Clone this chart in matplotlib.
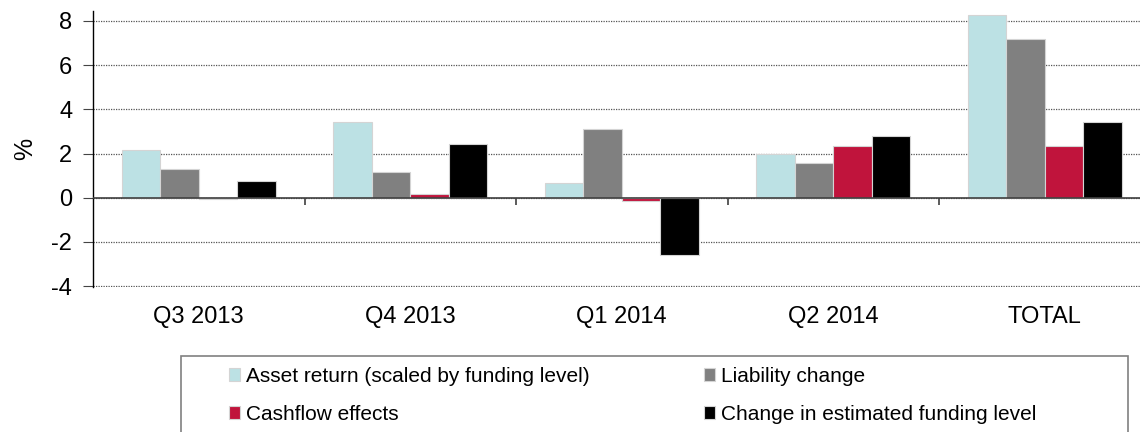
import matplotlib
matplotlib.use("Agg")
import matplotlib.pyplot as plt
from matplotlib.patches import Rectangle

# data
categories = ["Q3 2013", "Q4 2013", "Q1 2014", "Q2 2014", "TOTAL"]
asset_return = [2.14, 3.43, 0.66, 2.00, 8.29]
liability_change = [1.30, 1.18, 3.10, 1.55, 7.18]
cashflow_effects = [-0.05, 0.18, -0.15, 2.35, 2.35]
funding_change = [0.77, 2.43, -2.58, 2.79, 3.43]

series = [
    ("Asset return (scaled by funding level)", asset_return, "#bce1e4"),
    ("Liability change", liability_change, "#808080"),
    ("Cashflow effects", cashflow_effects, "#c0143c"),
    ("Change in estimated funding level", funding_change, "#000000"),
]

plt.rcParams["font.family"] = ["Liberation Sans", "DejaVu Sans"]

W, H = 1140, 432
fig = plt.figure(figsize=(W / 100, H / 100), dpi=100)
ax = fig.add_axes([93 / W, 1 - 287 / H, 1057.5 / W, 276 / H])

bar_w = 0.182
x = list(range(len(categories)))
bars = []
for i, (name, vals, col) in enumerate(series):
    off = (i - 1.5) * bar_w
    b = ax.bar([xi + off for xi in x], vals, width=bar_w, color=col,
               edgecolor="#d4d4d4", linewidth=0.8, label=name, zorder=3)
    bars.append(b)

ax.set_xlim(-0.5, len(categories) - 0.5)
ax.set_ylim(-4.04, 8.45)
ax.set_yticks([-4, -2, 0, 2, 4, 6, 8])
ax.set_yticklabels(["-4", "-2", "0", "2", "4", "6", "8"])
ax.yaxis.grid(True, linestyle=(0, (1, 1)), color="#555555", linewidth=0.9, zorder=0)

ax.set_xticks(x)
ax.set_xticklabels(categories)
ax.tick_params(axis="x", length=0, pad=14, labelsize=17)
ax.tick_params(axis="y", length=7, width=0.8, color="#444444", pad=8, labelsize=17)

for s in ["top", "right", "bottom"]:
    ax.spines[s].set_visible(False)
ax.spines["left"].set_color("black")
ax.spines["left"].set_linewidth(1.0)

# zero line with category separators
ax.axhline(0, color="#404040", linewidth=1.2, zorder=4)
ax.vlines([xi + 0.5 for xi in x[:-1]], -0.32, 0, color="#404040", linewidth=1.2, zorder=4)

ax.set_ylabel("%", fontsize=18, labelpad=10)

# legend frame
fig.patches.append(Rectangle((181 / W, -0.05), (1128 - 181) / W, 1.05 - 356 / H,
                             transform=fig.transFigure, fill=False,
                             edgecolor="#808080", linewidth=1.2))

leg_kw = dict(loc="upper left", frameon=False, fontsize=15, handlelength=0.53,
              handleheight=0.53, handletextpad=0.3, labelspacing=0.9,
              borderpad=0, borderaxespad=0)
fig.legend([bars[0], bars[2]], [series[0][0], series[2][0]],
           bbox_to_anchor=(229 / W, 1 - 367 / H), **leg_kw)
fig.legend([bars[1], bars[3]], [series[1][0], series[3][0]],
           bbox_to_anchor=(704 / W, 1 - 367 / H), **leg_kw)

fig.savefig("out.png", dpi=100)
